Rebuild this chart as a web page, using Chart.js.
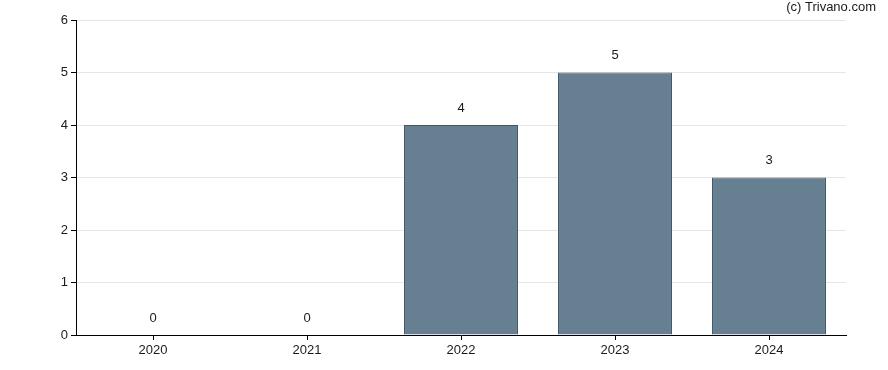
<!DOCTYPE html>
<html><head><meta charset="utf-8">
<script src="https://cdn.jsdelivr.net/npm/chart.js@4/dist/chart.umd.min.js"></script>
<style>html,body{margin:0;padding:0;background:#fff}#wrap{width:888px;height:370px}</style>
</head><body><div id="wrap"><canvas id="c" width="888" height="370"></canvas></div>
<script>
const categories = ['2020','2021','2022','2023','2024'];
const values = [0,0,4,5,3];
const yTicks = [0,1,2,3,4,5,6];

const FONT = '"Liberation Sans", Arial, sans-serif';
const labelPlugin = {
  id: 'labels',
  afterDatasetsDraw(chart) {
    const ctx = chart.ctx;
    const meta = chart.getDatasetMeta(0);
    ctx.save();
    ctx.font = '13px ' + FONT;
    ctx.fillStyle = '#1a1a1a';
    ctx.textAlign = 'center';
    ctx.textBaseline = 'middle';
    meta.data.forEach((bar, i) => {
      ctx.fillText(String(values[i]), bar.x, bar.y - 17);
    });
    ctx.textAlign = 'right';
    ctx.fillText('(c) Trivano.com', 876, 7);
    ctx.restore();
  }
};

new Chart(document.getElementById('c'), {
  type: 'bar',
  data: {
    labels: categories,
    datasets: [{
      data: values,
      backgroundColor: 'rgba(102,128,146,1)',
      borderColor: '#3e5668',
      borderWidth: 1,
      categoryPercentage: 0.74,
      barPercentage: 1
    }]
  },
  options: {
    responsive: false,
    animation: false,
    layout: { padding: { top: 20, right: 42, left: 0, bottom: 0 } },
    plugins: { legend: { display: false }, tooltip: { enabled: false } },
    scales: {
      x: {
        afterFit(s) { s.height = 35; },
        grid: { drawOnChartArea: false, offset: false, tickColor: '#000', tickLength: 5 },
        border: { color: '#000', width: 1 },
        ticks: { color: '#1a1a1a', font: { family: FONT, size: 13 }, padding: 3 }
      },
      y: {
        min: 0, max: 6,
        afterFit(s) { s.width = 76; },
        afterBuildTicks(s) { s.ticks = yTicks.map(v => ({ value: v })); },
        grid: { color: '#e6e6e6', tickColor: '#000', tickLength: 5 },
        border: { color: '#000', width: 1 },
        ticks: { color: '#1a1a1a', font: { family: FONT, size: 13 }, padding: 3 }
      }
    }
  },
  plugins: [labelPlugin]
});
</script></body></html>
